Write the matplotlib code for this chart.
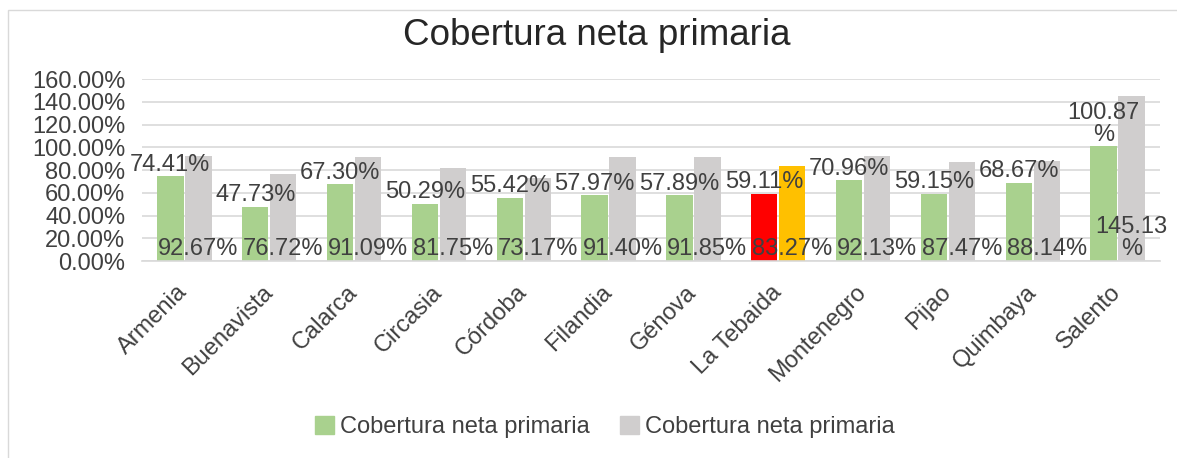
import numpy as np
import matplotlib
matplotlib.use("Agg")
import matplotlib.pyplot as plt
from matplotlib.patches import Rectangle, Patch

plt.rcParams['font.family'] = ['Liberation Sans', 'DejaVu Sans']

municipios = ['Armenia', 'Buenavista', 'Calarca', 'Circasia', 'Córdoba', 'Filandia',
              'Génova', 'La Tebaida', 'Montenegro', 'Pijao', 'Quimbaya', 'Salento']
serie1 = [74.41, 47.73, 67.30, 50.29, 55.42, 57.97, 57.89, 59.11, 70.96, 59.15, 68.67, 100.87]
serie2 = [92.67, 76.72, 91.09, 81.75, 73.17, 91.40, 91.85, 83.27, 92.13, 87.47, 88.14, 145.13]
nombre_serie = 'Cobertura neta primaria'

verde = '#A9D18E'
gris = '#D0CECE'
resaltado = 'La Tebaida'
texto = '#404040'

def etiqueta(v):
    s = f"{v:.2f}"
    # Excel wraps the long labels onto two lines
    return s + "\n%" if v >= 100 else s + "%"

fig = plt.figure(figsize=(11.77, 4.58), dpi=100)
fig.patches.append(Rectangle((0.007, -0.1), 1.2, 1.078, transform=fig.transFigure,
                             fill=False, edgecolor='#D9D9D9', lw=1))
ax = fig.add_axes([0.1206, 0.430, 0.865, 0.3975])

x = np.arange(len(municipios))
w = 0.31
c1 = [('#FF0000' if m == resaltado else verde) for m in municipios]
c2 = [('#FFC000' if m == resaltado else gris) for m in municipios]
b1 = ax.bar(x - 0.165, np.array(serie1) / 100, w, color=c1, zorder=2)
b2 = ax.bar(x + 0.165, np.array(serie2) / 100, w, color=c2, zorder=2)

for r, v in zip(b1, serie1):
    ax.text(r.get_x() + r.get_width() / 2, r.get_height() + 0.005, etiqueta(v),
            ha='center', va='bottom', fontsize=17, color=texto, linespacing=1.0, zorder=3)
for r, v in zip(b2, serie2):
    ax.text(r.get_x() + r.get_width() / 2, 0.005, etiqueta(v),
            ha='center', va='bottom', fontsize=17, color=texto, linespacing=1.0, zorder=3)

ax.set_xlim(-0.5, len(municipios) - 0.5)
ax.set_ylim(0, 1.6)
ax.set_yticks(np.arange(0, 1.61, 0.2))
ax.set_yticklabels([f"{t * 100:.2f}%" for t in np.arange(0, 1.61, 0.2)])
ax.yaxis.grid(True, color='#D9D9D9', lw=1.2, zorder=0)
ax.set_axisbelow(True)
for s in ['top', 'right', 'left']:
    ax.spines[s].set_visible(False)
ax.spines['bottom'].set_color('#D9D9D9')
ax.spines['bottom'].set_linewidth(1.2)
ax.tick_params(axis='y', length=0, pad=12, labelsize=17, labelcolor=texto)
ax.tick_params(axis='x', length=0, pad=20)
ax.set_xticks(x)
ax.set_xticklabels(municipios, rotation=45, ha='right', va='center',
                   rotation_mode='anchor', fontsize=17, color=texto)

fig.text(0.507, 0.923, 'Cobertura neta primaria', ha='center', va='center',
         fontsize=26.5, color='#262626')

handles = [Patch(color=verde, label=nombre_serie), Patch(color=gris, label=nombre_serie)]
fig.legend(handles=handles, loc='center', bbox_to_anchor=(0.514, 0.068), ncol=2,
           frameon=False, fontsize=17, handlelength=0.8, handleheight=0.8,
           handletextpad=0.25, columnspacing=1.3, labelcolor=texto)

fig.savefig('out.png', dpi=100)
